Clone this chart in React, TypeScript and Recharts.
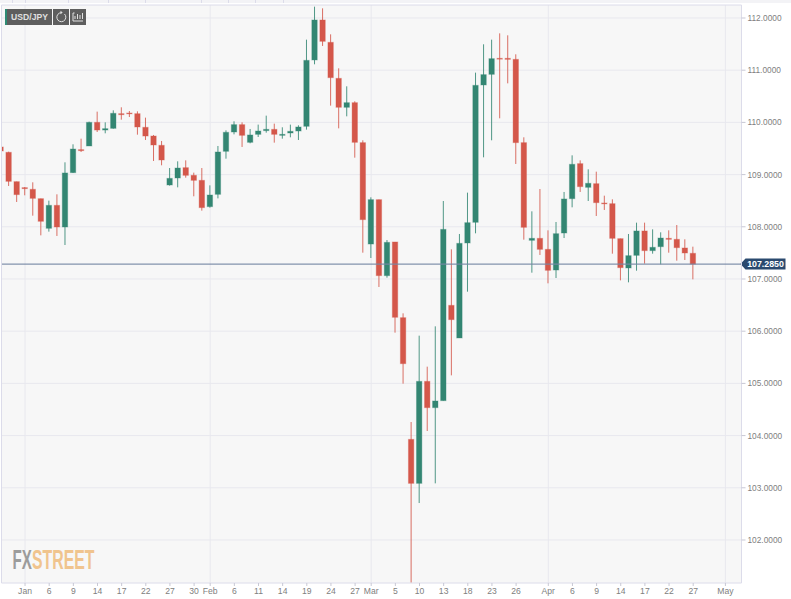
import React from 'react';
import { ComposedChart, Bar, XAxis, YAxis, CartesianGrid, ReferenceLine } from 'recharts';

const opens = [109.529,109.427,108.865,108.750,108.718,108.539,107.971,108.411,107.996,109.037,109.478,109.548,110.001,109.854,109.886,110.167,110.180,110.167,109.906,109.739,109.561,108.801,108.935,109.133,108.986,108.890,108.386,108.622,109.446,109.816,109.957,109.618,109.771,109.842,109.867,109.752,109.797,109.835,109.925,111.196,111.962,111.534,110.844,110.289,110.378,109.612,107.670,108.520,107.064,107.709,106.259,103.928,103.085,105.039,104.535,104.669,106.495,105.870,107.690,108.086,110.717,110.921,111.227,111.227,111.208,109.612,107.741,107.779,107.568,107.172,107.881,108.539,109.210,108.756,108.826,108.456,108.443,107.773,107.211,107.453,107.920,107.543,107.619,107.779,107.760,107.594,107.492];
const closes = [109.452,108.871,108.616,108.731,108.545,108.105,108.411,107.996,109.031,109.490,109.459,110.001,109.854,109.880,110.174,110.148,110.167,109.912,109.739,109.567,109.280,108.928,109.126,108.986,108.890,108.367,108.609,109.433,109.810,109.957,109.752,109.759,109.835,109.867,109.771,109.771,109.829,109.912,111.189,111.962,111.553,110.857,110.289,110.378,109.618,108.137,108.520,107.064,107.702,106.266,105.378,103.085,105.039,104.535,104.663,107.951,106.221,107.683,108.079,110.710,110.915,111.221,111.215,111.208,109.612,107.990,107.779,107.568,107.166,107.868,108.533,109.197,108.769,108.833,108.462,108.443,107.779,107.217,107.447,107.920,107.543,107.607,107.785,107.760,107.600,107.498,107.285];
const highs = [109.586,109.439,108.865,108.762,108.852,108.539,108.501,108.622,109.235,109.580,109.688,110.014,110.206,110.001,110.231,110.289,110.218,110.212,110.091,109.759,109.644,109.126,109.254,109.273,109.037,109.126,108.794,109.548,109.848,110.021,110.001,109.874,109.957,110.129,109.976,109.906,109.957,109.944,111.585,112.217,112.185,111.687,111.036,110.691,110.404,109.657,108.565,108.520,107.747,107.709,106.342,104.260,105.914,105.320,106.093,108.494,107.568,107.862,108.654,110.953,111.496,111.585,111.706,111.668,111.304,109.714,108.296,108.724,107.932,108.092,108.667,109.369,109.273,109.101,109.056,108.596,108.526,107.773,107.862,108.079,108.079,107.951,107.894,107.932,108.034,107.760,107.619];
const lows = [109.388,108.782,108.475,108.603,108.213,107.836,107.907,107.824,107.651,109.031,109.433,109.548,109.816,109.791,109.880,110.052,110.103,109.765,109.663,109.261,109.178,108.788,108.756,108.941,108.584,108.309,108.367,108.545,109.305,109.771,109.529,109.599,109.720,109.803,109.612,109.688,109.714,109.663,109.861,111.113,111.464,110.321,109.886,110.116,109.324,107.504,107.402,106.847,107.025,105.972,104.995,101.180,102.708,104.088,103.085,104.669,105.154,105.870,106.757,107.875,109.331,109.657,110.078,110.748,109.203,107.753,107.121,107.460,106.917,107.019,107.785,108.373,108.667,108.494,108.207,108.322,107.485,106.974,106.936,107.159,107.294,107.485,107.281,107.504,107.351,107.364,106.993];

const tickSlots = [3,6,9,12,15,18,21,24,26,29,32,35,38,41,44,46,49,52,55,58,61,64,68,71,74,77,80,83,86,90];
const tickLabels = ['Jan','6','9','14','17','22','27','30','Feb','6','11','14','19','24','27','Mar','5','10','13','18','23','26','Apr','6','9','14','17','22','27','May'];
const monthSlots = [3,26,46,68,90];
const priceTicks = [102,103,104,105,106,107,108,109,110,111,112];
const lastPrice = 107.285;
const pair = 'USD/JPY';

const table = opens.map((open, i) => ({ slot: i, open, close: closes[i], high: highs[i], low: lows[i] }));

const UP = '#338672';
const DOWN = '#d4574a';
const FONT = '"Liberation Sans", Arial, sans-serif';

function Candle(props: any) {
  const { x, y, width, height, payload } = props;
  const { open, close, high, low } = payload;
  const perUnit = height / (high - low);
  const cx = x + width / 2;
  const top = y + (high - Math.max(open, close)) * perUnit;
  const bottom = y + (high - Math.min(open, close)) * perUnit;
  const color = close >= open ? UP : DOWN;
  return (
    <g>
      <line x1={cx} x2={cx} y1={y} y2={y + height} stroke={color} strokeWidth={1} strokeOpacity={0.85} />
      <rect x={x} y={top} width={width} height={Math.max(bottom - top, 0.8)} fill={color} stroke={color} strokeOpacity={0.35} strokeWidth={1} />
    </g>
  );
}

function PriceTag(props: any) {
  const { viewBox } = props;
  const left = viewBox.x + viewBox.width - 1;
  const y = viewBox.y;
  return (
    <g>
      <path d={`M${left},${y} l5,-5.5 h40 v11 h-40 z`} fill="#2b4a6f" />
      <text x={left + 25} y={y + 3} textAnchor="middle" fill="#ffffff" fontSize={8.8} fontWeight={700} fontFamily={FONT}>
        {lastPrice.toFixed(4)}
      </text>
    </g>
  );
}

const topSeparators = [12, 25, 68, 108, 145, 201, 228, 255, 283];

export default function App() {
  return (
    <div style={{ position: 'absolute', left: 0, top: 0, width: 791, height: 599, background: '#ffffff', overflow: 'hidden' }}>
      <div style={{ position: 'absolute', left: 0, top: 0, width: 791, height: 3, background: '#f3f3f6' }} />
      {topSeparators.map((l) => (
        <div key={l} style={{ position: 'absolute', left: l, top: 0, width: 1, height: 3, background: '#dcdcea' }} />
      ))}
      <ComposedChart
        width={791}
        height={599}
        data={table}
        margin={{ top: 5, right: 0, bottom: 0, left: 1.5 }}
        style={{ position: 'absolute', left: 0, top: 0 }}
      >
        <CartesianGrid
          fill="#f7f7f7"
          stroke="#e8e8ee"
          strokeWidth={1}
          verticalValues={monthSlots}
          horizontalValues={priceTicks}
        />
        <XAxis
          dataKey="slot"
          type="number"
          domain={[0.075, 92]}
          allowDataOverflow
          ticks={tickSlots}
          interval={0}
          height={16}
          tickSize={3}
          tickMargin={2}
          tickFormatter={(v: number) => tickLabels[tickSlots.indexOf(v)]}
          tick={{ fontSize: 8.6, fill: '#808080', fontFamily: FONT }}
          axisLine={{ stroke: '#dcdcea' }}
          tickLine={{ stroke: '#c8c8d4' }}
        />
        <YAxis
          orientation="right"
          type="number"
          domain={[101.176, 112.249]}
          allowDataOverflow
          ticks={priceTicks}
          interval={0}
          width={49.5}
          tickSize={4}
          tickMargin={2}
          tickFormatter={(v: number) => v.toFixed(4)}
          tick={{ fontSize: 8.3, fill: '#808080', fontFamily: FONT }}
          axisLine={{ stroke: '#dcdcea' }}
          tickLine={{ stroke: '#c8c8d4' }}
        />
        <Bar dataKey={(d: any) => [d.low, d.high]} barSize={5.4} shape={<Candle />} isAnimationActive={false} />
        <ReferenceLine y={lastPrice} stroke="#7587a3" strokeWidth={1.2} strokeOpacity={0.9} label={(p: any) => <PriceTag {...p} />} />
      </ComposedChart>

      <svg width={791} height={599} style={{ position: 'absolute', left: 0, top: 0, pointerEvents: 'none' }}>
        <line x1={1.5} x2={741.5} y1={5} y2={5} stroke="#dcdcea" />
        <line x1={1.5} x2={1.5} y1={5} y2={583} stroke="#dcdcea" />
        <text transform="translate(12.5,569) scale(0.84,1.55)" fontSize={18} fontWeight={700} fontFamily={FONT} fill="#9c9c9c">FX</text>
        <text transform="translate(32,569) scale(0.88,1.55)" fontSize={18} fontWeight={700} fontFamily={FONT} fill="#f0c48e">STREET</text>
        <rect x={5} y={9} width={47} height={16} fill="#5e5e5e" />
        <rect x={5} y={9} width={2} height={16} fill="#2e8b74" />
        <text x={29.5} y={20} textAnchor="middle" fontSize={8.6} fontWeight={700} fill="#e0e0e0" fontFamily={FONT}>{pair}</text>
        <rect x={53} y={9} width={16} height={16} fill="#5e5e5e" />
        <path d="M64.5,14 a4.5,4.5 0 1 1 -3,-1.3" fill="none" stroke="#e0e0e0" strokeWidth={1} />
        <path d="M60.5,10.8 l2.2,1.8 l-2.2,1.6 z" fill="#e0e0e0" />
        <rect x={70} y={9} width={16} height={16} fill="#5e5e5e" />
        <path d="M73,13 h1.6 M73,21 h10 M75,19 v-3 M77.5,19 v-5 M80,19 v-4 M82.5,19 v-6 M73,13 v8" fill="none" stroke="#e0e0e0" strokeWidth={1} />
      </svg>
    </div>
  );
}
